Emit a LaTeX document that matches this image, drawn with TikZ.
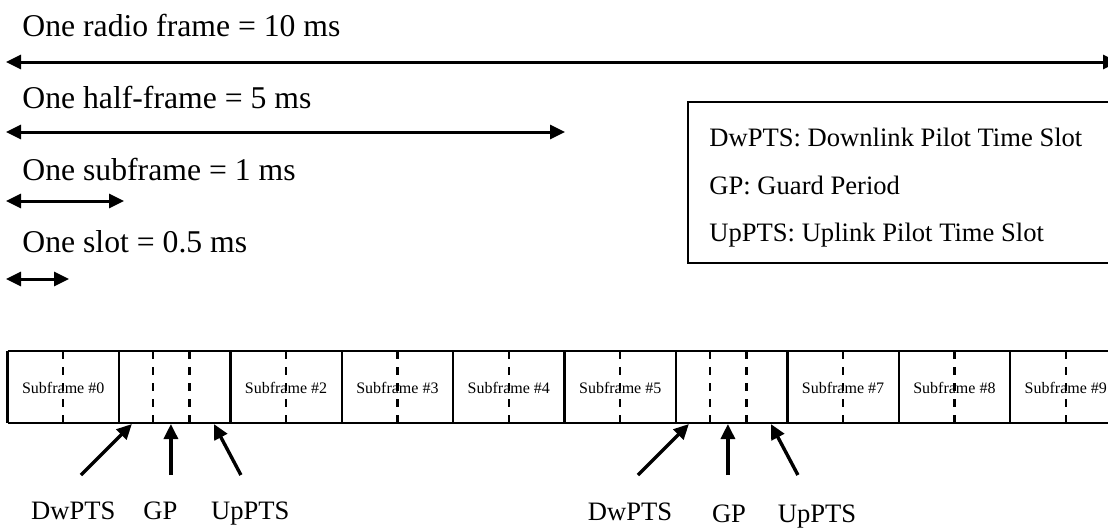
\documentclass[tikz,border=0pt]{standalone}
\usepackage{fontspec}
\setmainfont{Liberation Serif}
\usetikzlibrary{arrows.meta, positioning}

\tikzset{
  span/.style={line width=1.5pt, {Triangle[length=7.5pt,width=7pt]}-{Triangle[length=7.5pt,width=7pt]}},
  pointer/.style={line width=1.7pt, -{Triangle[length=7.5pt,width=7pt]}},
  halfline/.style={line width=1.1pt, dash pattern=on 4pt off 4pt},
  cell/.style={line width=1.2pt},
  dur/.style={anchor=base west, inner sep=0pt, font=\fontsize{15.85}{19}\selectfont},
  key/.style={anchor=base west, inner sep=0pt, font=\fontsize{13.3}{16}\selectfont},
  tag/.style={anchor=base, inner sep=0pt, font=\fontsize{13.3}{16}\selectfont},
  sflabel/.style={inner sep=0pt, font=\fontsize{8}{10}\selectfont},
}

\begin{document}
\begin{tikzpicture}[x=0.5pt, y=-0.5pt]
\useasboundingbox (0,0) rectangle (1108,527);
\clip (0,0) rectangle (1108,527);

% durations
\node[dur] (tframe) at (22,36) {One radio frame = 10 ms};
\node[dur] (thalf) at (22,108.3) {One half-frame = 5 ms};
\node[dur] (tsub) at (22,180) {One subframe = 1 ms};
\node[dur] (tslot) at (22,252.3) {One slot = 0.5 ms};
\coordinate (frameL) at (6,62);  \coordinate (frameR) at (1118,62);
\coordinate (halfL) at (6,132);  \coordinate (halfR) at (565,132);
\coordinate (subL) at (6,201);   \coordinate (subR) at (124,201);
\coordinate (slotL) at (6,279);  \coordinate (slotR) at (69,279);
\draw[span] (frameL) -- (frameR);
\draw[span] (halfL) -- (halfR);
\draw[span] (subL) -- (subR);
\draw[span] (slotL) -- (slotR);

% legend
\draw[line width=1.1pt] (688,102) rectangle (1130,263);
\node[key] (kdw) at (709,146.7) {DwPTS: Downlink Pilot Time Slot};
\node[key] (kgp) at (709,194) {GP: Guard Period};
\node[key] (kup) at (709,241.7) {UpPTS: Uplink Pilot Time Slot};

% subframe row
\foreach \k in {0,...,10} {
  \coordinate (t\k) at ({7.5+111.4*\k},351);
  \coordinate (u\k) at ({7.5+111.4*\k},423);
}
\draw[cell] (t0) -- (t10);
\draw[cell] (u0) -- (u10);
\foreach \k in {0,...,10}
  \draw[cell] (t\k) -- (u\k);
\foreach \k in {0,2,3,4,5,7,8,9} {
  \coordinate (mt\k) at ({7.5+111.4*\k+55.7},351);
  \coordinate (mu\k) at ({7.5+111.4*\k+55.7},423);
  \draw[halfline] (mt\k) -- (mu\k);
  \node[sflabel] (sf\k) at ({7.5+111.4*\k+55.7},388) {Subframe \#\k};
}

% special subframes
\foreach \s in {1,6} {
  \coordinate (gt\s) at ({7.5+111.4*\s+34},351);
  \coordinate (gu\s) at ({7.5+111.4*\s+34},423);
  \coordinate (ht\s) at ({7.5+111.4*\s+70.5},351);
  \coordinate (hu\s) at ({7.5+111.4*\s+70.5},423);
  \draw[halfline] (gt\s) -- (gu\s);
  \draw[halfline] (ht\s) -- (hu\s);
  \coordinate (dwA\s) at ({7.5+111.4*\s-38},475);
  \coordinate (dwB\s) at ({7.5+111.4*\s+13},424);
  \coordinate (gpA\s) at ({7.5+111.4*\s+52},475);
  \coordinate (gpB\s) at ({7.5+111.4*\s+52},424);
  \coordinate (upA\s) at ({7.5+111.4*\s+122},475);
  \coordinate (upB\s) at ({7.5+111.4*\s+95},424);
  \draw[pointer] (dwA\s) -- (dwB\s);
  \draw[pointer] (gpA\s) -- (gpB\s);
  \draw[pointer] (upA\s) -- (upB\s);
}

% pointer labels
\node[tag] (dw1) at (73.3,519.5) {DwPTS};
\node[tag] (gp1) at (160.3,519.5) {GP};
\node[tag] (up1) at (250.3,519.5) {UpPTS};
\node[tag] (dw6) at (630,520.5) {DwPTS};
\node[tag] (gp6) at (729,522.5) {GP};
\node[tag] (up6) at (817,522) {UpPTS};
\end{tikzpicture}
\end{document}
